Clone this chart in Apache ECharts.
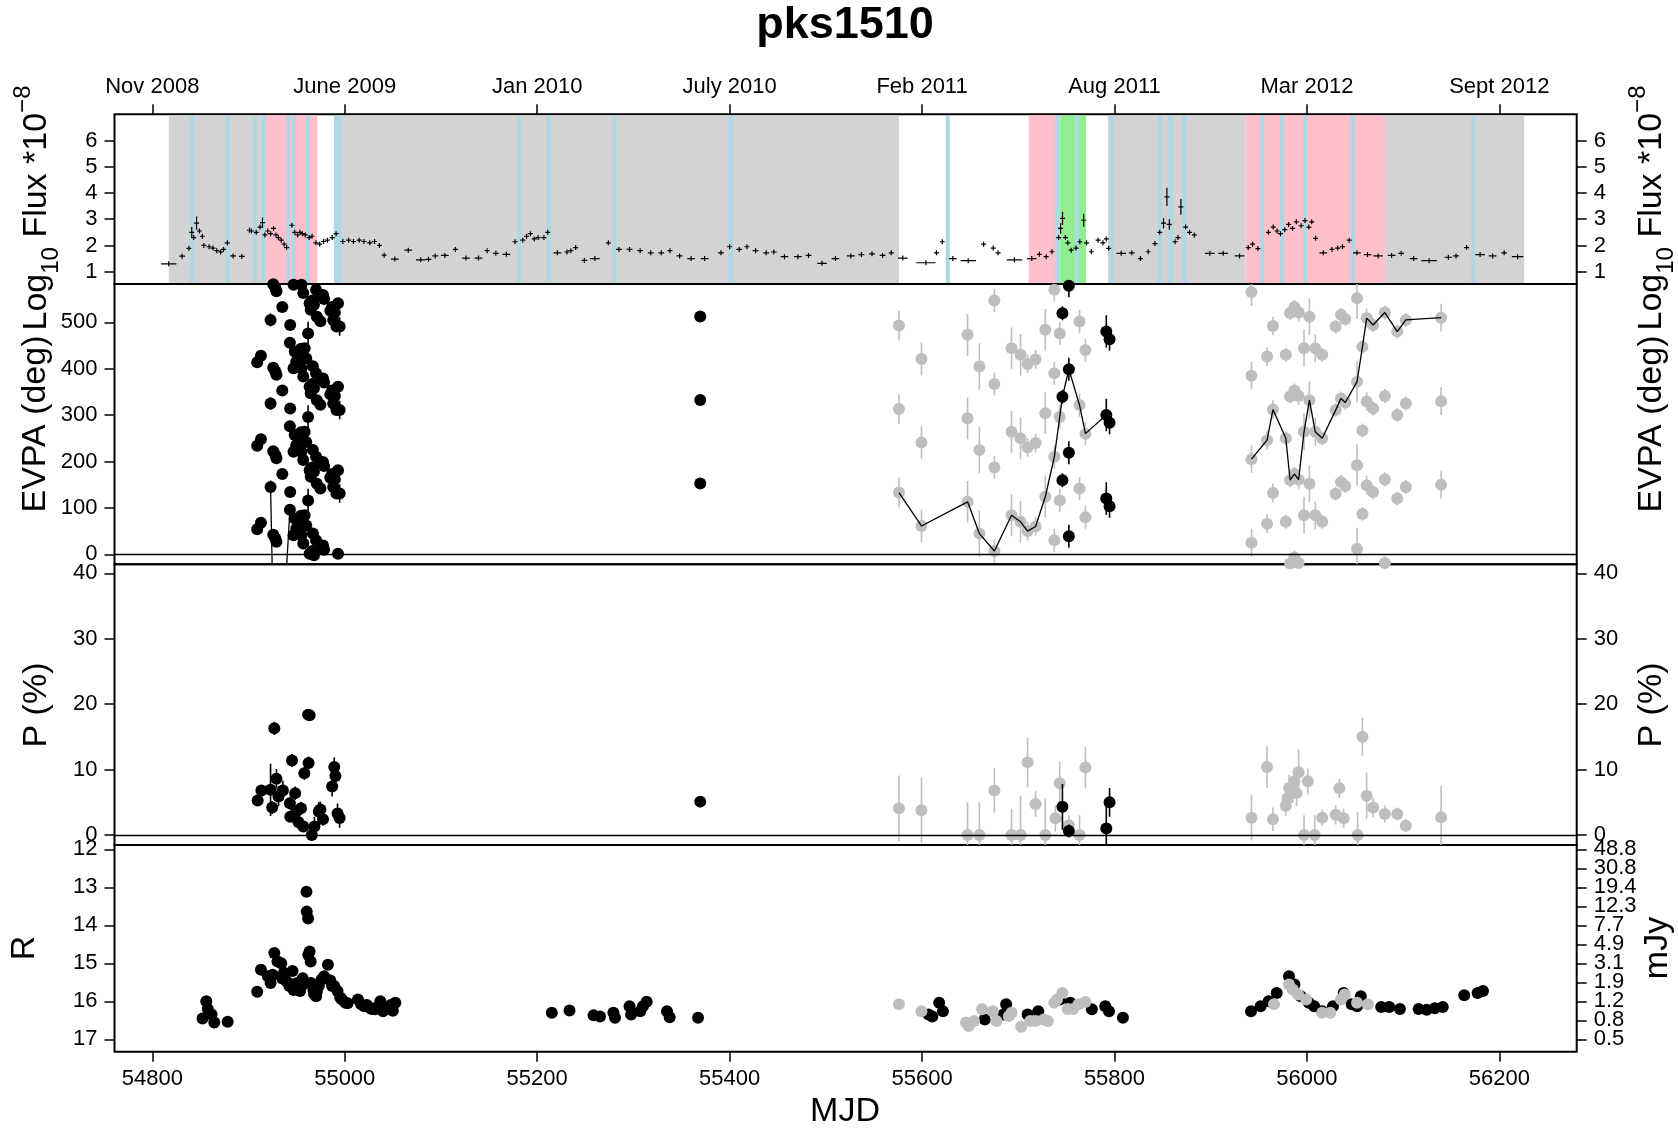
<!DOCTYPE html>
<html><head><meta charset="utf-8">
<script src="https://cdn.jsdelivr.net/npm/echarts@6/dist/echarts.min.js"></script>
<style>html,body{margin:0;padding:0;background:#fff}#c{width:1678px;height:1132px}</style>
</head><body><div id="c"></div>
<script>
// ---------- tick labels ----------
const mjdTicks = [54800,55000,55200,55400,55600,55800,56000,56200];
const monthLabels = ['Nov 2008','June 2009','Jan 2010','July 2010','Feb 2011','Aug 2011','Mar 2012','Sept 2012'];
const fluxTicks = [1,2,3,4,5,6];
const evpaTicks = [0,100,200,300,400,500];
const polTicks = [0,10,20,30,40];
const rTicks = [12,13,14,15,16,17];
const mJyTicks = [12,12.5,13,13.5,14,14.5,15,15.5,16,16.5,17];
const mJyLabels = ['48.8','30.8','19.4','12.3','7.7','4.9','3.1','1.9','1.2','0.8','0.5'];

// ---------- shaded periods (MJD) ----------
const grayPeriods = [[54817.1,54971.3],[54991,55576.0],[55793.2,55936.3],[56081.1,56225.8]];
const pinkPeriods = [[54918.4,54971.3],[55710.8,55743.6],[55936.3,56081.1]];
const greenPeriods = [[55743.6,55770.4]];
const blueLines = [54841,54878.3,54906.7,54915.6,54941.3,54947.4,54961.9,54990.8,54994.7,55181.2,55211.9,55280.3,55401.2,
  55626.7,55740.3,55760.9,55797.1,55847.2,55858.3,55872.3,55953.6,55974.2,55998.1,56047.7,56172.4];

// ---------- gamma flux: [mjd, flux, half bin (d), error] ----------
const fluxPoints = [
[54817,1.30,8,0.035],[54831,1.59,3,0.035],[54838,1.89,1.5,0.05],[54841,2.5,1,0.2],[54843,2.3,1,0.08],[54846,2.85,1,0.25],[54849,2.55,1,0.08],[54852,2.35,1,0.07],[54853.5,2.0,1,0.06],[54859,1.95,1.5,0.05],[54863,1.9,1.5,0.05],[54867,1.8,1.5,0.05],[54871,1.75,1.5,0.05],[54874,1.85,1.5,0.05],[54878,2.1,1,0.06],[54884,1.6,3,0.035],[54893,1.58,3,0.035],[54901,2.58,1,0.06],[54903,2.55,1,0.06],[54908,2.5,1,0.07],[54912,2.7,1,0.08],[54914.5,2.87,1,0.2],[54917,2.4,1,0.07],[54920,2.55,1,0.07],[54923,2.45,1,0.07],[54926,2.65,1,0.07],[54928.5,2.4,1,0.06],[54931,2.3,1,0.06],[54934,2.2,1,0.06],[54937,2.05,1,0.06],[54939.6,1.92,1,0.06],[54945,2.77,1,0.08],[54948,2.5,1,0.07],[54951,2.4,1,0.06],[54953.5,2.5,1,0.06],[54956,2.45,1,0.06],[54959,2.4,1,0.06],[54963,2.3,1,0.06],[54966,2.35,1,0.06],[54970,2.1,1.5,0.05],[54974,2.05,1.5,0.05],[54978,2.15,1.5,0.05],[54982,2.2,1.5,0.05],[54987,2.3,1,0.06],[54991,2.45,1,0.06],[54998,2.15,1.5,0.04],[55004,2.2,1.5,0.04],[55009,2.15,1.5,0.04],[55015,2.2,1.5,0.04],[55020,2.15,1.5,0.04],[55026,2.1,1.5,0.04],[55031,2.15,1.5,0.04],[55036,2.0,1.5,0.04],[55041,1.63,2,0.035],[55052,1.48,4,0.035],[55066,1.82,4,0.035],[55079,1.45,5,0.035],[55087,1.47,3,0.035],[55094,1.6,3,0.035],[55104,1.62,4,0.035],[55115,1.85,2,0.04],[55126,1.52,4,0.035],[55139,1.52,4,0.035],[55148,1.8,2,0.04],[55157,1.7,3,0.035],[55168,1.66,4,0.035],[55177,2.14,1,0.05],[55185,2.2,1,0.06],[55189,2.35,1,0.06],[55193,2.45,1,0.07],[55197,2.25,1,0.06],[55201,2.3,1,0.06],[55207,2.3,1,0.06],[55211,2.5,1,0.06],[55221,1.72,4,0.035],[55231,1.75,2,0.035],[55235,1.8,2,0.035],[55240,1.92,1.5,0.04],[55249,1.43,3,0.035],[55260,1.5,5,0.035],[55274,2.1,1.5,0.05],[55285,1.85,3,0.035],[55296,1.85,3,0.035],[55307,1.8,3,0.035],[55318,1.72,3,0.035],[55329,1.72,3,0.035],[55338,1.8,2,0.035],[55348,1.6,3,0.035],[55360,1.5,4,0.035],[55374,1.5,4,0.035],[55391,1.72,3,0.035],[55400,1.95,1.5,0.04],[55410,1.85,3,0.035],[55418,1.95,2,0.035],[55427,1.8,3,0.035],[55438,1.72,3,0.035],[55446,1.75,3,0.035],[55457,1.57,4,0.035],[55471,1.57,4,0.035],[55482,1.62,3,0.035],[55496,1.32,5,0.035],[55510,1.5,4,0.035],
[55526,1.6,4,0.035],[55537,1.65,3,0.035],[55548,1.68,3,0.035],[55559,1.62,3,0.035],[55568,1.72,2,0.035],[55580,1.52,5,0.035],[55604,1.34,10,0.035],[55615,1.72,1.5,0.04],[55621,2.14,1,0.06],[55632,1.5,4,0.035],[55648,1.42,8,0.035],[55664,2.05,1.5,0.05],[55674,1.9,1.5,0.04],[55679,1.72,1.5,0.04],[55696,1.45,8,0.035],[55714,1.5,5,0.035],[55722,1.66,2,0.035],[55729,1.57,2,0.035],[55735,1.76,1.5,0.04],[55742,2.3,1,0.08],[55744,2.65,1,0.2],[55746,3.03,1,0.25],[55749,2.3,1,0.08],[55751.5,2.1,1,0.06],[55755,1.82,1,0.05],[55760,1.9,1,0.05],[55764,2.14,1,0.06],[55768,2.96,1,0.25],[55771,2.1,1,0.06],[55776,1.76,1.5,0.04],[55783,2.2,1,0.05],[55788,2.1,1,0.05],[55791.5,2.25,1,0.05],[55794,1.89,1,0.04],[55807,1.7,5,0.035],[55818,1.72,3,0.035],[55827,1.5,2,0.035],[55835,1.76,1.5,0.04],[55842,2.07,1,0.05],[55847,2.5,1,0.08],[55851,2.85,1,0.2],[55854.5,3.85,1,0.35],[55857,2.8,1,0.2],[55863,2.14,1,0.06],[55866,2.3,1,0.07],[55869,3.47,1,0.3],[55874,2.7,1,0.08],[55878,2.5,1,0.07],[55883,2.4,1,0.06],[55899,1.7,5,0.035],[55913,1.7,5,0.035],[55930,1.6,5,0.035],[55939,1.92,1,0.05],[55943.5,2.05,1,0.05],[55949,1.88,1,0.04],[55960,2.5,1,0.07],[55965,2.7,1,0.08],[55969,2.55,1,0.07],[55972.5,2.45,1,0.07],[55977,2.6,1,0.08],[55981,2.8,1,0.08],[55985,2.65,1,0.08],[55989,2.9,1,0.08],[55994,2.75,1,0.08],[55998,2.95,1,0.08],[56002,2.7,1,0.08],[56005,2.9,1,0.08],[56009,2.27,1,0.06],[56017,1.72,4,0.035],[56026,1.85,2,0.04],[56032,1.9,2,0.04],[56037,1.95,2,0.04],[56044,2.2,1,0.05],[56052,1.72,4,0.035],[56063,1.65,4,0.035],[56074,1.6,5,0.035],[56088,1.62,4,0.035],[56098,1.7,3,0.035],[56111,1.5,4,0.035],[56127,1.42,8,0.035],[56147,1.55,4,0.035],[56155,1.6,3,0.035],[56166,1.92,1.5,0.04],[56180,1.65,5,0.035],[56193,1.6,4,0.035],[56205,1.72,3,0.035],[56219,1.57,6,0.035]
];

// ---------- EVPA: [mjd, unwrapped deg, error] ----------
const evpaBlack2009 = [
[54909.0,54,6],[54912.9,68,6],[54922.9,145,14],[54925.7,-138,8],[54927.9,-146,6],[54929.0,-153,8],[54935.1,-187,6],[54943.0,96,6],[54943.3,134,6],[54946.8,41,6],[54948.0,77,6],[54949.6,55,6],[54951.6,73,6],[54952.4,59,6],[54954.6,83,6],[54955.0,41,6],[54956.9,23,6],[54958.3,84,6],[54960.0,62,6],[54961.9,116,25],[54963.5,1,5],[54964.6,167,6],[54966.3,7,6],[54966.9,45,6],[54968.0,178,6],[54970.2,30,6],[54971.0,152,8],[54974.7,142,6],[54975.8,16,6],[54977.4,19,6],[54978.5,10,6],[54985.0,165,6],[54986.9,173,6],[54988.0,145,6],[54989.7,161,6],[54991.4,131,8],[54993.0,1,6],[54994.7,131,20]
];
const evpaLine2009 = [[54922.9,145],[54925.7,-138],[54927.9,-146],[54929.0,-153],[54935.1,-187],[54943.0,96]];
const evpaBlack2010 = [[55369.5,152.5,5]];
const evpaBlack2011 = [[55745.9,339.5,15],[55752.6,398.8,25],[55791.5,300,35],[55794.9,283.5,25]];
const evpaGray = [
[55576.0,133,32],[55599.4,61,35],[55647.3,113,45],[55659.6,44.6,50],[55675.2,7,25],[55693.0,84,45],[55702.4,70,45],[55709.7,50,20],[55718.0,60,20],[55728.1,124,45],[55737.5,210,25],[55743.1,296,25],[55763.7,321.5,25],[55769.8,260,25],
[55942.4,205,30],[55958.6,246,20],[55964.7,312,20],[55978.1,250,15],[55982.5,160,15],[55987.0,173,15],[55991.4,161,20],[55997.0,264,40],[56002.6,332,40],[56008.7,264,30],[56015.9,250,15],[56029.9,310.7,15],[56035.4,336,15],[56039.9,327,15],[56052.1,372,45],[56057.7,447,15],[56062.1,509,20],[56068.8,494,15],[56081.0,521,15],[56093.9,480,15],[56102.8,505,15],[56139.5,510,30]
];

// ---------- polarisation degree: [mjd, P %, error] ----------
const polBlack = [
[54909.5,5.26,0.8],[54913.4,6.8,0.8],[54922.9,6.9,4],[54924.6,4.2,1],[54926.8,16.3,1],[54929.0,8.6,1.5],[54931.2,5.9,1.5],[54935.7,6.8,1.5],[54943.0,4.85,1],[54945.2,11.4,1],[54943.4,2.8,0.8],[54948.5,6.4,1],[54949.6,3.6,1],[54951.8,2.0,1],[54954.6,4.1,1],[54956.9,1.3,0.8],[54958.0,9.45,1],[54961.9,18.4,0.8],[54963.5,18.3,0.8],[54962.4,11.0,1],[54965.8,0.0,0.8],[54968.5,1.3,1.5],[54973.0,3.6,1.5],[54974.7,3.9,1.2],[54977.4,2.4,1],[54986.9,7.4,1.5],[54989.1,10.4,1.5],[54990.3,9.0,1.5],[54992.5,3.3,1.5],[54994.7,2.6,1.5],
[55369.5,5.1,0.5],
[55745.9,4.3,3.5],[55752.6,0.6,1],[55791.5,1.0,3.5],[55794.9,5.0,2.2]
];
const polGray = [
[55576.0,4.1,5],[55599.4,3.8,5],[55647.3,0,5],[55659.6,0,5],[55675.2,6.8,3.4],[55693.0,0,4],[55702.4,0,6],[55709.7,11.1,3.8],[55718.0,4.75,2],[55728.1,0,5.6],[55738.6,2.55,2],[55743.1,7.9,3.3],[55752.6,1.5,1.5],[55763.7,0,3],[55769.8,10.3,3.2],
[55942.4,2.65,3.5],[55958.6,10.4,3.2],[55964.7,2.4,1.8],[55978.1,4.45,1.5],[55979.7,5.6,2],[55981.4,7.2,2],[55985.3,6.9,2],[55987.0,8.2,2],[55989.2,6.4,2],[55991.4,9.6,3.5],[55997.0,0,3],[56000.9,8.2,2],[56008.1,0,3],[56015.9,2.65,1.2],[56029.9,3.1,1.5],[56033.7,7.15,1.5],[56038.2,2.55,1.5],[56052.7,0,3.5],[56057.7,15.0,2.9],[56062.1,6.0,3.5],[56068.8,4.2,1.5],[56081.0,3.2,1.3],[56093.9,3.2,1],[56102.8,1.4,1],[56139.5,2.7,4.8]
];

// ---------- optical R magnitude: [mjd, R] ----------
const rBlack = [
[54852.2,16.45],[54856.1,16.0],[54857.7,16.2],[54861.6,16.35],[54864.4,16.56],[54878.3,16.54],
[54909.0,15.75],[54912.9,15.17],[54920.1,15.34],[54922.9,15.52],[54925.0,15.3],[54926.8,14.73],[54930.1,14.95],[54934.0,15.0],[54935.0,15.4],[54936.8,15.25],[54939.6,15.47],[54942.4,15.6],[54944.0,15.55],[54945.7,15.2],[54946.8,15.7],[54948.0,15.65],[54950.7,15.52],[54952.0,15.6],[54953.5,15.73],[54956.3,15.39],[54957.0,15.55],[54960.2,13.12],[54960.5,13.64],[54961.9,13.82],[54962.1,14.78],[54963.5,14.69],[54964.6,14.95],[54964.8,15.52],[54967.4,15.7],[54968.0,15.8],[54970.2,15.87],[54971.0,15.75],[54973.0,15.6],[54975.8,15.43],[54978.6,15.34],[54982.5,15.04],[54985.0,15.45],[54986.9,15.6],[54989.0,15.6],[54992.5,15.73],[54995.3,15.9],[54997.0,15.95],[55000.8,16.04],[55003.0,16.05],[55013.7,15.95],[55017.0,16.08],[55020.3,16.13],[55023.0,16.1],[55025.9,16.17],[55028.0,16.2],[55031.5,16.21],[55034.0,16.15],[55037.0,16.0],[55039.8,16.26],[55042.0,16.2],[55045.4,16.17],[55048.0,16.1],[55050.0,16.25],[55052.6,16.04],
[55215.2,16.3],[55233.6,16.24],[55258.6,16.37],[55265.3,16.4],[55279.2,16.3],[55280.9,16.43],[55296.0,16.13],[55297.6,16.35],[55307.1,16.26],[55309.9,16.13],[55313.8,16.01],[55334.9,16.26],[55337.7,16.42],[55367.2,16.43],
[55606.7,16.35],[55610.6,16.4],[55617.8,16.04],[55621.7,16.26],[55665.1,16.48],[55684.6,16.35],[55687.4,16.08],[55709.7,16.35],[55720.8,16.26],[55743.1,15.95],[55754.2,16.04],[55776.5,16.21],[55790.4,16.13],[55794.3,16.26],[55808.8,16.43],
[55941.9,16.26],[55951.9,16.13],[55960.2,16.0],[55968.6,15.78],[55981.4,15.34],[55987.0,15.56],[55993.6,15.87],[56002.0,16.04],[56007.6,16.13],[56015.9,16.26],[56027.1,16.13],[56038.2,15.78],[56046.5,16.08],[56052.1,16.13],[56056.0,15.87],[56077.2,16.15],[56085.5,16.15],[56096.7,16.2],[56116.1,16.2],[56124.5,16.22],[56132.9,16.18],[56141.2,16.15],[56163.5,15.84],[56177.4,15.78],[56183.0,15.73]
];
const rGray = [
[55576.0,16.08],[55599.4,16.26],[55645.7,16.56],[55648.4,16.65],[55654.0,16.52],[55662.4,16.21],[55673.5,16.26],[55677.4,16.52],[55690.2,16.39],[55693.0,16.3],[55703.0,16.67],[55712.5,16.52],[55718.0,16.52],[55726.4,16.48],[55730.8,16.52],[55737.5,16.04],[55740.3,15.95],[55745.9,15.78],[55751.4,16.2],[55757.0,16.2],[55762.6,16.08],[55769.8,16.02],
[55965.8,16.08],[55981.4,15.56],[55985.3,15.69],[55990.9,15.82],[55999.2,15.95],[56015.9,16.3],[56024.3,16.3],[56035.4,15.95],[56039.3,15.82],[56052.1,16.04],[56063.3,16.08]
];

// ---------- layout / style ----------
const FONT = '"Liberation Sans", Arial, Helvetica, sans-serif';
const XMIN = 54760.7, XMAX = 56280.4;
const FLUX = [0.53, 7.0], EVPA = [-21.6, 582.5], POL = [-1.53, 41.38], RMAG = [11.887, 17.326];
const GL = 114.5, GR = 1678 - 1576.7;
const PANELS = [[114.3,169.7],[284,280.3],[564.3,280.7],[845,206.7]];
const LGRAY = '#BEBEBE';

function copies(list, lo, hi){
  const out = [];
  list.forEach(([m,v,e]) => { for (let k=-4;k<=4;k++){ const y=v+180*k; if (y>=lo && y<=hi) out.push([m,y,e]); } });
  return out;
}
function errBar(color, w){
  return function(params, api){
    const x=api.value(0), y=api.value(1), e=api.value(2);
    const a=api.coord([x,y-e]), b=api.coord([x,y+e]);
    return {type:'line', shape:{x1:a[0],y1:a[1],x2:b[0],y2:b[1]}, style:{stroke:color, lineWidth:w}};
  };
}
function bandSeries(periods, color){
  return {type:'custom', xAxisIndex:0, yAxisIndex:0, z:1, silent:true,
    data: periods.map(p=>[p[0],p[1],1]), encode:{x:[0,1], y:2},
    renderItem(params, api){
      const cs = params.coordSys;
      const x0 = Math.max(api.coord([api.value(0),1])[0], cs.x), x1 = Math.min(api.coord([api.value(1),1])[0], cs.x+cs.width);
      return {type:'rect', shape:{x:x0, y:cs.y+1, width:x1-x0, height:cs.height-2}, style:{fill:color}};
    }};
}
function tickAxis(extra){
  return Object.assign({type:'value', axisLine:{show:false}, splitLine:{show:false}}, extra);
}
const tickStyle = {color:'#000', width:1.5};
function yTicks(ticks, fmt, labelTicks){
  return {
    axisTick:{show:true, customValues:ticks, length:10, inside:false, lineStyle:tickStyle},
    axisLabel:{show:true, customValues:labelTicks || ticks, showMinLabel:true, showMaxLabel:true, hideOverlap:false, fontSize:22, fontFamily:FONT, color:'#000', margin:17, formatter: fmt || (v=>String(v))}
  };
}
const zeroLine = {silent:true, symbol:['none','none'], label:{show:false}, animation:false,
  lineStyle:{color:'#000', width:1.3, type:'solid'}, data:[{yAxis:0}]};

const sortByX = a => a.slice().sort((p,q)=>p[0]-q[0]);
const line2011 = sortByX(evpaGray.filter(p=>p[0]<55850).concat(evpaBlack2011)).map(p=>[p[0],p[1]]);
const line2012 = sortByX(evpaGray.filter(p=>p[0]>55850)).map(p=>[p[0],p[1]]);
const evpaBlackAll = copies(evpaBlack2009.concat(evpaBlack2010, evpaBlack2011), -3, EVPA[1]);
const evpaGrayAll = copies(evpaGray, EVPA[0], EVPA[1]);

const grids = PANELS.map(([t,h]) => ({left:GL, right:GR, top:t, height:h, show:true, borderColor:'#000', borderWidth:2, backgroundColor:'transparent', outerBoundsMode:'none', containLabel:false}));

const xAxes = [
  tickAxis({gridIndex:0, min:XMIN, max:XMAX, position:'top',
    axisTick:{show:true, customValues:mjdTicks, length:10, lineStyle:tickStyle},
    axisLabel:{show:true, customValues:mjdTicks, fontSize:22, fontFamily:FONT, color:'#000', margin:16, formatter:v=>monthLabels[mjdTicks.indexOf(v)]}}),
  tickAxis({gridIndex:1, min:XMIN, max:XMAX, show:false}),
  tickAxis({gridIndex:2, min:XMIN, max:XMAX, show:false}),
  tickAxis({gridIndex:3, min:XMIN, max:XMAX, position:'bottom',
    axisTick:{show:true, customValues:mjdTicks, length:10, lineStyle:tickStyle},
    axisLabel:{show:true, customValues:mjdTicks, fontSize:22, fontFamily:FONT, color:'#000', margin:16, formatter:v=>String(v)}})
];
const mJyFmt = v => mJyLabels[mJyTicks.indexOf(v)];
const mJyEven = mJyTicks.filter((v,i)=>i%2===0), mJyOdd = mJyTicks.filter((v,i)=>i%2===1);
const yAxes = [
  tickAxis(Object.assign({gridIndex:0, min:FLUX[0], max:FLUX[1], position:'left'}, yTicks(fluxTicks))),
  tickAxis(Object.assign({gridIndex:0, min:FLUX[0], max:FLUX[1], position:'right'}, yTicks(fluxTicks))),
  tickAxis(Object.assign({gridIndex:1, min:EVPA[0], max:EVPA[1], position:'left'}, yTicks(evpaTicks))),
  tickAxis({gridIndex:1, min:EVPA[0], max:EVPA[1], position:'right', axisTick:{show:false}, axisLabel:{show:false}}),
  tickAxis(Object.assign({gridIndex:2, min:POL[0], max:POL[1], position:'left'}, yTicks(polTicks))),
  tickAxis(Object.assign({gridIndex:2, min:POL[0], max:POL[1], position:'right'}, yTicks(polTicks))),
  tickAxis(Object.assign({gridIndex:3, min:RMAG[0], max:RMAG[1], inverse:true, position:'left'}, yTicks(rTicks))),
  tickAxis(Object.assign({gridIndex:3, min:RMAG[0], max:RMAG[1], inverse:true, position:'right'}, yTicks(mJyTicks, mJyFmt, mJyEven))),
  tickAxis(Object.assign({gridIndex:3, min:RMAG[0], max:RMAG[1], inverse:true, position:'right'}, yTicks(mJyTicks, mJyFmt, mJyOdd)))
];
yAxes[7].axisLabel.fontSize = 22;
yAxes[8].axisLabel.fontSize = 22;
yAxes[8].axisTick.show = false;

const series = [
  bandSeries(grayPeriods, '#D3D3D3'),
  bandSeries(pinkPeriods, '#FFC0CB'),
  bandSeries(greenPeriods, '#90EE90'),
  {type:'custom', xAxisIndex:0, yAxisIndex:0, z:2, silent:true,
    data: blueLines.map(m=>[m,1]), encode:{x:0,y:1},
    renderItem(params, api){
      const cs = params.coordSys; const x = api.coord([api.value(0),1])[0];
      return {type:'rect', shape:{x:x-2, y:cs.y+1, width:4, height:cs.height-2}, style:{fill:'#ADD8E6'}};
    }},
  {type:'custom', xAxisIndex:0, yAxisIndex:0, z:3, silent:true, clip:true,
    data: fluxPoints, encode:{x:0,y:1},
    renderItem(params, api){
      const m=api.value(0), f=api.value(1), h=api.value(2), e=api.value(3);
      const a=api.coord([m-h,f]), b=api.coord([m+h,f]), c=api.coord([m,f-e]), d=api.coord([m,f+e]);
      const cy = (c[1]+d[1])/2, half = Math.max(Math.abs(c[1]-d[1])/2, 2.5);
      const hx = Math.max((b[0]-a[0])/2, 2.5), cx = (a[0]+b[0])/2;
      return {type:'group', children:[
        {type:'line', shape:{x1:cx-hx,y1:a[1],x2:cx+hx,y2:b[1]}, style:{stroke:'#000', lineWidth:1.2}},
        {type:'line', shape:{x1:c[0],y1:cy+half,x2:d[0],y2:cy-half}, style:{stroke:'#000', lineWidth:1.2}}]};
    }},
  // EVPA
  {type:'custom', xAxisIndex:1, yAxisIndex:2, z:2, silent:true, clip:true, data:evpaGrayAll, encode:{x:0,y:1}, renderItem:errBar(LGRAY,1.6)},
  {type:'scatter', xAxisIndex:1, yAxisIndex:2, z:3, silent:true, symbolSize:12, itemStyle:{color:LGRAY, opacity:1}, data:evpaGrayAll.map(p=>[p[0],p[1]]), markLine:zeroLine},
  {type:'line', xAxisIndex:1, yAxisIndex:2, z:4, silent:true, showSymbol:false, symbol:'none', lineStyle:{color:'#000', width:1.3}, data:evpaLine2009},
  {type:'line', xAxisIndex:1, yAxisIndex:2, z:4, silent:true, showSymbol:false, symbol:'none', lineStyle:{color:'#000', width:1.3}, data:line2011},
  {type:'line', xAxisIndex:1, yAxisIndex:2, z:4, silent:true, showSymbol:false, symbol:'none', lineStyle:{color:'#000', width:1.3}, data:line2012},
  {type:'custom', xAxisIndex:1, yAxisIndex:2, z:5, silent:true, clip:true, data:evpaBlackAll, encode:{x:0,y:1}, renderItem:errBar('#000',1.6)},
  {type:'scatter', xAxisIndex:1, yAxisIndex:2, z:6, silent:true, symbolSize:12, itemStyle:{color:'#000', opacity:1}, data:evpaBlackAll.map(p=>[p[0],p[1]])},
  // P
  {type:'custom', xAxisIndex:2, yAxisIndex:4, z:2, silent:true, clip:true, data:polGray, encode:{x:0,y:1}, renderItem:errBar(LGRAY,1.6)},
  {type:'scatter', xAxisIndex:2, yAxisIndex:4, z:3, silent:true, symbolSize:12, itemStyle:{color:LGRAY, opacity:1}, data:polGray.map(p=>[p[0],p[1]]), markLine:zeroLine},
  {type:'custom', xAxisIndex:2, yAxisIndex:4, z:5, silent:true, clip:true, data:polBlack, encode:{x:0,y:1}, renderItem:errBar('#000',1.6)},
  {type:'scatter', xAxisIndex:2, yAxisIndex:4, z:6, silent:true, symbolSize:12, itemStyle:{color:'#000', opacity:1}, data:polBlack.map(p=>[p[0],p[1]])},
  // R
  {type:'scatter', xAxisIndex:3, yAxisIndex:6, z:3, silent:true, symbolSize:12, itemStyle:{color:'#000', opacity:1}, data:rBlack},
  {type:'scatter', xAxisIndex:3, yAxisIndex:6, z:4, silent:true, symbolSize:12, itemStyle:{color:LGRAY, opacity:1}, data:rGray}
];

function vText(x, y, text, rich){
  return {type:'text', x, y, rotation:Math.PI/2, z:100, silent:true,
    style: Object.assign({text, fill:'#000', font:'34px '+FONT, align:'center', verticalAlign:'middle', textAlign:'center', textVerticalAlign:'middle'}, rich?{rich}:{})};
}
const fluxRich = {
  n:{fontSize:34, fontFamily:FONT, fill:'#000', lineHeight:52},
  s:{fontSize:24, fontFamily:FONT, fill:'#000', lineHeight:30, verticalAlign:'bottom'},
  p:{fontSize:24, fontFamily:FONT, fill:'#000', lineHeight:30, verticalAlign:'top'}
};
const fluxTitle = '{n|Log}{s|10}{n| Flux *10}{p|\u22128}';
const graphics = [
  {type:'text', x:845, y:26, z:100, silent:true, style:{text:'pks1510', fill:'#000', font:'bold 45px '+FONT, align:'center', verticalAlign:'middle', textAlign:'center', textVerticalAlign:'middle'}},
  {type:'text', x:845, y:1112, z:100, silent:true, style:{text:'MJD', fill:'#000', font:'34px '+FONT, align:'center', verticalAlign:'middle', textAlign:'center', textVerticalAlign:'middle'}},
  vText(37, 208, fluxTitle, fluxRich),
  vText(36, 424, 'EVPA (deg)'),
  vText(37, 705, 'P (%)'),
  vText(25, 948, 'R'),
  vText(1652, 208, fluxTitle, fluxRich),
  vText(1652, 424, 'EVPA (deg)'),
  vText(1652, 705, 'P (%)'),
  vText(1658, 948, 'mJy')
];

const chart = echarts.init(document.getElementById('c'), null, {renderer:'canvas'});
chart.setOption({
  animation:false, backgroundColor:'#fff',
  grid:grids, xAxis:xAxes, yAxis:yAxes, series, graphic:graphics
});
</script>
</body></html>
